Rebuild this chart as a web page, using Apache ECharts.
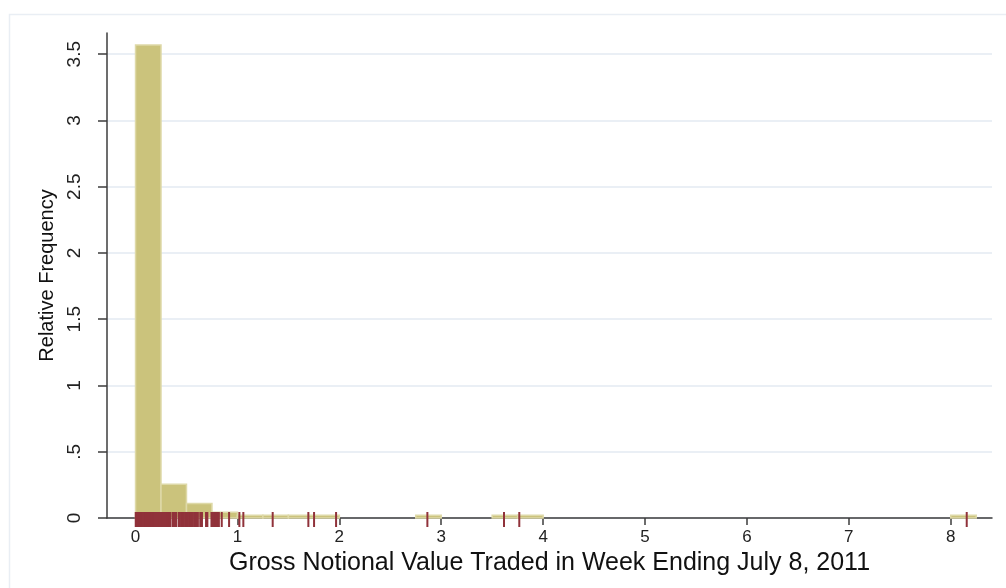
<!DOCTYPE html>
<html>
<head>
<meta charset="utf-8">
<script src="https://cdn.jsdelivr.net/npm/echarts@6/dist/echarts.min.js"></script>
<style>
  html, body { margin: 0; padding: 0; background: #fff; }
  #chart { width: 1006px; height: 588px; }
</style>
</head>
<body>
<div id="chart"></div>
<script>
// histogram bins (width 0.25) : start, end, relative frequency
const binStarts = [0, 0.25, 0.5, 0.75, 1.0, 1.25, 1.5, 1.75, 2.75, 3.5, 3.75, 8.0];
const binEnds   = [0.25, 0.5, 0.75, 1.0, 1.25, 1.5, 1.75, 2.0, 3.0, 3.75, 4.0, 8.25];
const binHeights = [3.57, 0.255, 0.11, 0.043, 0.02, 0.02, 0.02, 0.02, 0.02, 0.02, 0.02, 0.02];

// rug of the individual observations
const rugValues = [
  0.002, 0.011, 0.019, 0.03, 0.041, 0.05, 0.062, 0.071, 0.083, 0.094, 0.103, 0.115,
  0.126, 0.137, 0.146, 0.158, 0.169, 0.178, 0.19, 0.201, 0.212, 0.224, 0.233, 0.245,
  0.256, 0.267, 0.276, 0.288, 0.299, 0.31, 0.321, 0.332, 0.342,
  0.364, 0.375, 0.387, 0.397,
  0.422, 0.434, 0.447, 0.46, 0.472, 0.486, 0.498, 0.511, 0.525, 0.537, 0.55, 0.563,
  0.577, 0.589, 0.601, 0.612,
  0.635, 0.652, 0.692, 0.705,
  0.745, 0.757, 0.77, 0.783, 0.796, 0.808, 0.818,
  0.846, 0.918, 1.019, 1.058, 1.346, 1.696, 1.752, 1.968, 2.864, 3.616, 3.766, 8.157
];

const xTicks = [0, 1, 2, 3, 4, 5, 6, 7, 8];
const yTicks = [0, 0.5, 1, 1.5, 2, 2.5, 3, 3.5];
const yTickLabels = ['0', '.5', '1', '1.5', '2', '2.5', '3', '3.5'];

const barFill = '#cbc37c';
const barEdge = '#ded9a8';
const rugColor = '#90323a';
const axisColor = '#3c3c3c';
const fontFamily = '"Liberation Sans", Arial, sans-serif';

const chart = echarts.init(document.getElementById('chart'));

const binData = binStarts.map((s, i) => [s, binEnds[i], binHeights[i]]);

const option = {
  backgroundColor: '#ffffff',
  animation: false,
  graphic: [{
    type: 'rect',
    left: 7, top: 12,
    shape: { width: 1200, height: 800 },
    style: { fill: 'none', stroke: '#e9eef4', lineWidth: 1.5 },
    silent: true, z: -10
  }],
  grid: { left: 107, right: 14, top: 33, bottom: 70 },
  xAxis: {
    type: 'value',
    min: -0.28,
    max: 8.405,
    name: 'Gross Notional Value Traded in Week Ending July 8, 2011',
    nameLocation: 'middle',
    nameGap: 27,
    nameTextStyle: { fontFamily: fontFamily, fontSize: 25, color: '#111' },
    axisLine: { show: true, onZero: false, lineStyle: { color: axisColor, width: 1.5 } },
    axisTick: { show: true, length: 7, customValues: xTicks, lineStyle: { color: axisColor, width: 1.5 } },
    axisLabel: { customValues: xTicks, fontFamily: fontFamily, fontSize: 17, color: '#222', margin: 11 },
    splitLine: { show: false }
  },
  yAxis: {
    type: 'value',
    min: 0,
    max: 3.66,
    name: 'Relative Frequency',
    nameLocation: 'middle',
    nameGap: 49,
    nameTextStyle: { fontFamily: fontFamily, fontSize: 20, color: '#111' },
    axisLine: { show: true, onZero: false, lineStyle: { color: axisColor, width: 1.5 } },
    axisTick: { show: true, length: 9, customValues: yTicks, lineStyle: { color: axisColor, width: 1.5 } },
    axisLabel: {
      customValues: yTicks,
      rotate: 90,
      margin: 23,
      fontFamily: fontFamily,
      fontSize: 19,
      color: '#222',
      formatter: (v) => yTickLabels[yTicks.indexOf(v)] ?? String(v)
    },
    splitLine: { show: true, lineStyle: { color: '#eaeff5', width: 2 } }
  },
  series: [
    {
      type: 'custom',
      name: 'bins',
      data: binData,
      encode: { x: [0, 1], y: 2 },
      clip: false,
      renderItem: (params, api) => {
        const p0 = api.coord([api.value(0), api.value(2)]);
        const p1 = api.coord([api.value(1), 0]);
        return {
          type: 'rect',
          shape: { x: p0[0], y: p0[1], width: p1[0] - p0[0], height: p1[1] - p0[1] },
          style: { fill: barFill, stroke: barEdge, lineWidth: 1.5 }
        };
      },
      z: 2
    },
    {
      type: 'scatter',
      name: 'rug',
      data: rugValues.map(v => [v, 0]),
      symbol: 'rect',
      symbolSize: [2, 15],
      symbolOffset: [0, 1.5],
      itemStyle: { color: rugColor, opacity: 1 },
      clip: false,
      silent: true,
      z: 3
    }
  ]
};

chart.setOption(option);
</script>
</body>
</html>
